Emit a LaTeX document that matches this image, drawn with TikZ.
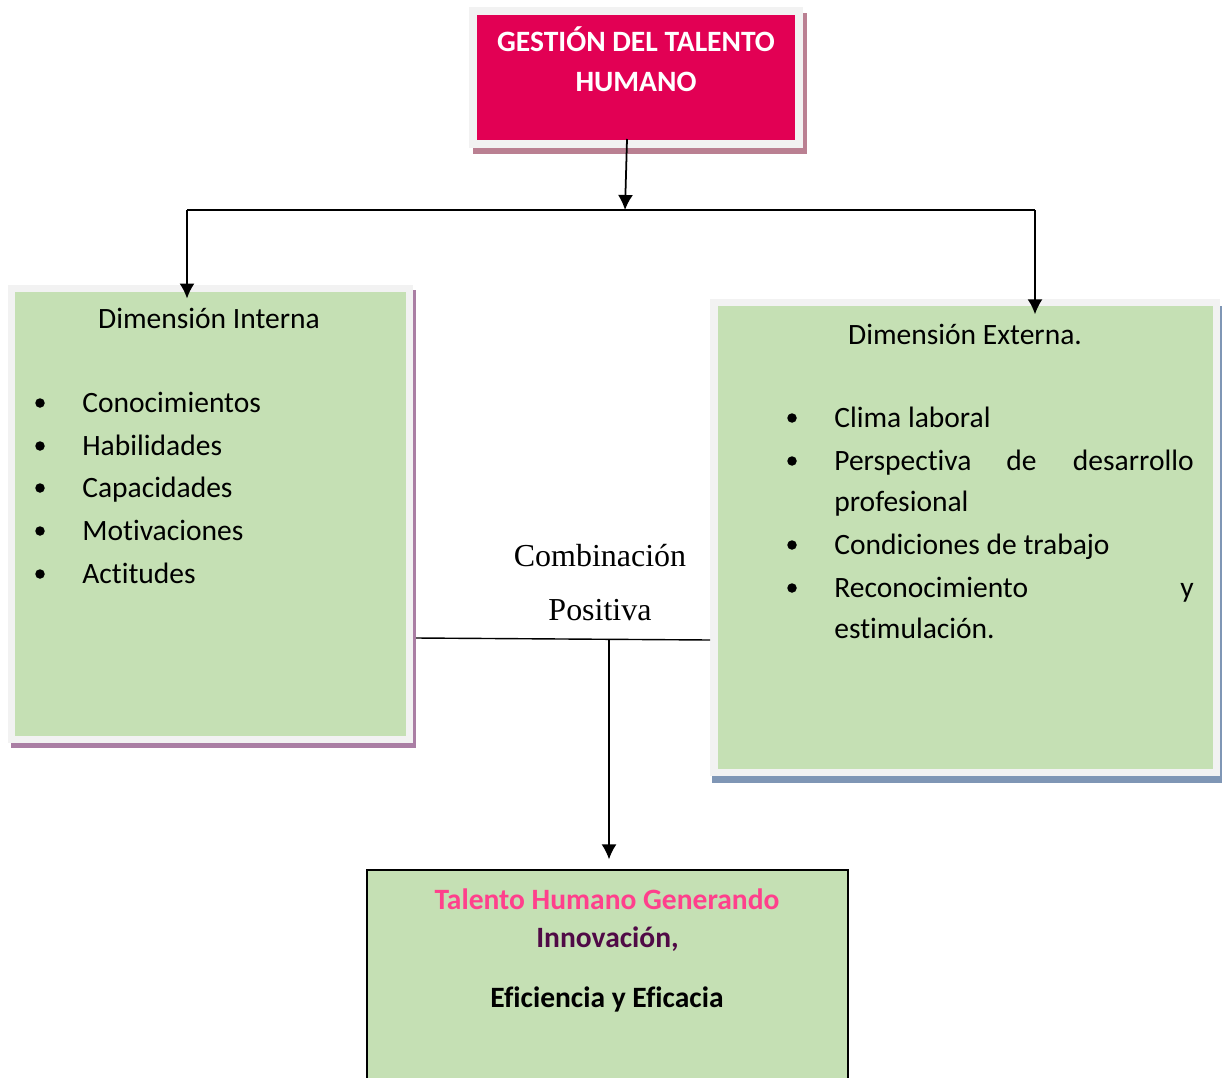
\documentclass[tikz,border=0pt]{standalone}
\usepackage{fontspec}
\setmainfont{Carlito}[Ligatures=NoCommon]
\newfontfamily\timesfont{Liberation Serif}
\usepackage{tikz}
\usetikzlibrary{arrows.meta}
\tikzset{>={Latex[width=3mm,length=3mm]}}
\definecolor{magentabox}{RGB}{226,0,84}
\definecolor{greenbox}{RGB}{197,224,180}
\definecolor{framegray}{RGB}{242,242,242}
\definecolor{mauveshadow}{RGB}{186,128,146}
\definecolor{purpleshadow}{RGB}{170,126,164}
\definecolor{blueshadow}{RGB}{127,150,181}
\definecolor{pinktext}{RGB}{255,64,140}
\definecolor{plumtext}{RGB}{80,10,70}
\tikzset{
	boxtext/.style={font=\fontsize{16.8}{20}\selectfont, inner sep=0pt},
	combtext/.style={font=\timesfont\fontsize{18.2}{22}\selectfont, inner sep=0pt},
	panel/.style n args={4}{draw=framegray, line width=#2, inner sep=0pt,
		preaction={draw=#1, fill=#1, line width=#2, transform canvas={shift={(#3,#4)}}}},
	bulletdot/.style={circle, fill=black, inner sep=0pt, minimum size=0.19cm}
}

\begin{document}
\begin{tikzpicture}
	\useasboundingbox (0,0) rectangle (24.46,-21.54);
	% boxes
	\node[panel={mauveshadow}{0.16cm}{0.08cm}{-0.12cm}, fill=magentabox, minimum width=6.52cm, minimum height=2.66cm] (gth) at (12.72,-1.55) {};
	\node[panel={purpleshadow}{0.14cm}{0.06cm}{-0.10cm}, fill=greenbox, minimum width=7.96cm, minimum height=9.03cm] (dimint) at (4.21,-10.275) {};
	\node[panel={blueshadow}{0.15cm}{0.04cm}{-0.14cm}, fill=greenbox, minimum width=10.05cm, minimum height=9.40cm] (dimext) at (19.305,-10.75) {};
	\node[draw=black, line width=0.8pt, fill=greenbox, minimum width=9.62cm, minimum height=4.6cm] (res) at (12.15,-19.7) {};
	% connectors
	\coordinate (busL) at (3.74,-4.20);
	\coordinate (busM) at (12.50,-4.20);
	\coordinate (busR) at (20.70,-4.20);
	\coordinate (combL) at (8.32,-12.76);
	\coordinate (combM) at (12.18,-12.79);
	\coordinate (combR) at (14.20,-12.80);
	\draw[->, line width=1pt] ([shift={(-0.18,0.18)}]gth.south) -- (busM);
	\draw[line width=1.6pt] (busL) -- (busR);
	\draw[->, line width=0.9pt, shorten >=-0.28cm] (busL) -- (busL |- dimint.north);
	\draw[->, line width=0.9pt, shorten >=-0.31cm] (busR) -- (busR |- dimext.north);
	\draw[line width=0.8pt] (combL) -- (combR);
	\draw[->, line width=0.8pt, shorten >=0.2cm] (combM) -- (combM |- res.north);
	% texts
	\node[boxtext, white, anchor=base] (gthA) at (12.72,-1.04) {\textbf{GESTIÓN DEL TALENTO}};
	\node[boxtext, white, anchor=base] (gthB) at (12.72,-1.84) {\textbf{HUMANO}};
	\node[boxtext, anchor=base] (intT) at (4.18,-6.56) {Dimensión Interna};
	\node[bulletdot] (intb1) at (0.80,-8.06) {};
	\node[bulletdot] (intb2) at (0.80,-8.92) {};
	\node[bulletdot] (intb3) at (0.80,-9.76) {};
	\node[bulletdot] (intb4) at (0.80,-10.62) {};
	\node[bulletdot] (intb5) at (0.80,-11.48) {};
	\node[boxtext, anchor=base west] (int1) at (1.64,-8.24) {Conocimientos};
	\node[boxtext, anchor=base west] (int2) at (1.64,-9.10) {Habilidades};
	\node[boxtext, anchor=base west] (int3) at (1.64,-9.94) {Capacidades};
	\node[boxtext, anchor=base west] (int4) at (1.64,-10.80) {Motivaciones};
	\node[boxtext, anchor=base west] (int5) at (1.64,-11.66) {Actitudes};
	\node[boxtext, anchor=base] (extT) at (19.30,-6.88) {Dimensión Externa.};
	\node[bulletdot] (extb1) at (15.84,-8.36) {};
	\node[bulletdot] (extb2) at (15.84,-9.22) {};
	\node[bulletdot] (extb3) at (15.84,-10.90) {};
	\node[bulletdot] (extb4) at (15.84,-11.76) {};
	\node[boxtext, anchor=base west] (ext1) at (16.68,-8.54) {Clima laboral};
	\node[boxtext, anchor=base west] (ext2a) at (16.68,-9.40) {Perspectiva};
	\node[boxtext, anchor=base] (ext2b) at (20.43,-9.40) {de};
	\node[boxtext, anchor=base east] (ext2c) at (23.88,-9.40) {desarrollo};
	\node[boxtext, anchor=base west] (ext2d) at (16.68,-10.22) {profesional};
	\node[boxtext, anchor=base west] (ext3) at (16.68,-11.08) {Condiciones de trabajo};
	\node[boxtext, anchor=base west] (ext4a) at (16.68,-11.94) {Reconocimiento};
	\node[boxtext, anchor=base east] (ext4b) at (23.88,-11.94) {y};
	\node[boxtext, anchor=base west] (ext4c) at (16.68,-12.76) {estimulación.};
	\node[combtext, anchor=base] (combA) at (12.00,-11.32) {Combinación};
	\node[combtext, anchor=base] (combB) at (12.00,-12.40) {Positiva};
	\node[boxtext, pinktext, anchor=base] (resA) at (12.14,-18.18) {\textbf{Talento Humano Generando}};
	\node[boxtext, plumtext, anchor=base] (resB) at (12.15,-18.94) {\textbf{Innovación,}};
	\node[boxtext, anchor=base] (resC) at (12.14,-20.14) {\textbf{Eficiencia y Eficacia}};
\end{tikzpicture}
\end{document}
